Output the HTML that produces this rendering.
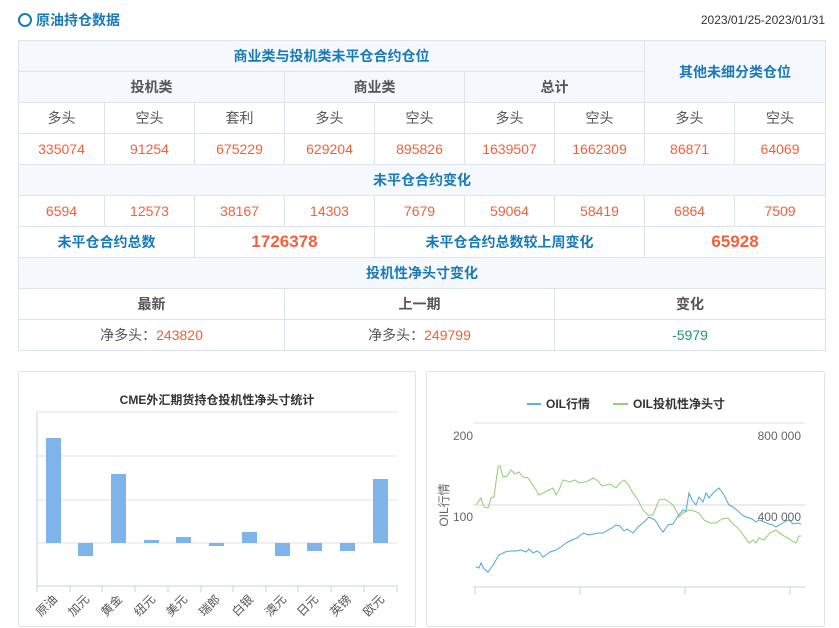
<!DOCTYPE html><html><head><meta charset="utf-8"><style>
body{margin:0;width:839px;height:628px;background:#fff;font-family:"Liberation Sans","Noto Sans CJK SC",sans-serif;position:relative;overflow:hidden}
.t{position:absolute}
table{position:absolute;left:18px;top:40px;border-collapse:collapse;width:808px;table-layout:fixed}
td{border:1px solid #dde3ea;height:30px;text-align:center;font-size:14px;color:#555;padding:0}
.h{background:#f5f8fc}
.b{color:#1a7ab8;font-weight:bold}
.g{color:#555;font-weight:bold}
.o{color:#f4603a}
.ob{color:#f4603a;font-weight:bold;font-size:17px}
.panel{position:absolute;border:1px solid #dde3ea;border-radius:3px}
</style></head><body>
<div class="t" style="left:18px;top:13px;width:10px;height:10px;border:2px solid #1a7ab8;border-radius:50%"></div>
<div class="t" style="left:36px;top:10px;font-size:14px;font-weight:bold;color:#1a7ab8">原油持仓数据</div>
<div class="t" style="right:14px;top:13px;font-size:12px;color:#333">2023/01/25-2023/01/31</div>
<table>
<colgroup><col style="width:86px"><col style="width:90px"><col style="width:90px"><col style="width:90px"><col style="width:90px"><col style="width:90px"><col style="width:90px"><col style="width:90px"><col style="width:91px"></colgroup>
<tr><td colspan="7" class="h b">商业类与投机类未平仓合约仓位</td><td colspan="2" rowspan="2" class="h b">其他未细分类仓位</td></tr>
<tr><td colspan="3" class="h g">投机类</td><td colspan="2" class="h g">商业类</td><td colspan="2" class="h g">总计</td></tr>
<tr><td>多头</td><td>空头</td><td>套利</td><td>多头</td><td>空头</td><td>多头</td><td>空头</td><td>多头</td><td>空头</td></tr>
<tr class="o"><td class="o">335074</td><td class="o">91254</td><td class="o">675229</td><td class="o">629204</td><td class="o">895826</td><td class="o">1639507</td><td class="o">1662309</td><td class="o">86871</td><td class="o">64069</td></tr>
<tr><td colspan="9" class="h b">未平仓合约变化</td></tr>
<tr><td class="o">6594</td><td class="o">12573</td><td class="o">38167</td><td class="o">14303</td><td class="o">7679</td><td class="o">59064</td><td class="o">58419</td><td class="o">6864</td><td class="o">7509</td></tr>
<tr><td colspan="2" class="b">未平仓合约总数</td><td colspan="2" class="ob">1726378</td><td colspan="3" class="b">未平仓合约总数较上周变化</td><td colspan="2" class="ob">65928</td></tr>
<tr><td colspan="9" class="h b">投机性净头寸变化</td></tr>
<tr><td colspan="3" class="g">最新</td><td colspan="3" class="g">上一期</td><td colspan="3" class="g">变化</td></tr>
<tr><td colspan="3">净多头：<span class="o">243820</span></td><td colspan="3">净多头：<span class="o">249799</span></td><td colspan="3" style="color:#1a9a6a">-5979</td></tr>
</table>
<div class="panel" style="left:18px;top:371px;width:396px;height:254px"></div>
<div class="panel" style="left:426px;top:371px;width:397px;height:254px"></div>
<svg class="t" style="left:0;top:0" width="839" height="628" font-family="Liberation Sans,Noto Sans CJK SC,sans-serif">
<text x="217" y="404" text-anchor="middle" font-size="12" font-weight="bold" fill="#333">CME外汇期货持仓投机性净头寸统计</text>
<g stroke="#dde2ea"><line x1="37" y1="412" x2="397" y2="412"/><line x1="37" y1="456" x2="397" y2="456"/><line x1="37" y1="500" x2="397" y2="500"/><line x1="37" y1="543" x2="397" y2="543"/></g>
<line x1="37" y1="412" x2="37" y2="586" stroke="#c5d3e3"/><line x1="37" y1="586" x2="398" y2="586" stroke="#c5d3e3"/>
<g stroke="#c5d3e3"><line x1="37" y1="586" x2="37" y2="592"/><line x1="70" y1="586" x2="70" y2="592"/><line x1="102" y1="586" x2="102" y2="592"/><line x1="135" y1="586" x2="135" y2="592"/><line x1="168" y1="586" x2="168" y2="592"/><line x1="201" y1="586" x2="201" y2="592"/><line x1="233" y1="586" x2="233" y2="592"/><line x1="266" y1="586" x2="266" y2="592"/><line x1="298" y1="586" x2="298" y2="592"/><line x1="331" y1="586" x2="331" y2="592"/><line x1="364" y1="586" x2="364" y2="592"/><line x1="397" y1="586" x2="397" y2="592"/></g>
<g fill="#7eb4ea">
<rect x="46" y="438" width="15" height="105"/><rect x="78" y="543" width="15" height="13"/><rect x="111" y="474" width="15" height="69"/><rect x="144" y="540" width="15" height="3"/><rect x="176" y="537" width="15" height="6"/><rect x="209" y="543" width="15" height="3"/><rect x="242" y="532" width="15" height="11"/><rect x="275" y="543" width="15" height="13"/><rect x="307" y="543" width="15" height="8"/><rect x="340" y="543" width="15" height="8"/><rect x="373" y="479" width="15" height="64"/>
</g>
<g font-size="12" fill="#555" text-anchor="end">
<text transform="translate(58,600) rotate(-45)">原油</text><text transform="translate(90,600) rotate(-45)">加元</text><text transform="translate(123,600) rotate(-45)">黄金</text><text transform="translate(156,600) rotate(-45)">纽元</text><text transform="translate(188,600) rotate(-45)">美元</text><text transform="translate(221,600) rotate(-45)">瑞郎</text><text transform="translate(254,600) rotate(-45)">白银</text><text transform="translate(287,600) rotate(-45)">澳元</text><text transform="translate(319,600) rotate(-45)">日元</text><text transform="translate(352,600) rotate(-45)">英镑</text><text transform="translate(385,600) rotate(-45)">欧元</text>
</g>
<line x1="527" y1="404" x2="541" y2="404" stroke="#5ab0de" stroke-width="2"/><text x="546" y="408" font-size="12" font-weight="bold" fill="#333">OIL行情</text>
<line x1="613" y1="404" x2="628" y2="404" stroke="#8fcf6f" stroke-width="2"/><text x="633" y="408" font-size="12" font-weight="bold" fill="#333">OIL投机性净头寸</text>
<line x1="473" y1="423" x2="805" y2="423" stroke="#dde2ea"/><line x1="473" y1="505" x2="805" y2="505" stroke="#d5d8dc"/>
<line x1="473" y1="587" x2="805" y2="587" stroke="#c5d3e3"/>
<g stroke="#c5d3e3"><line x1="475" y1="587" x2="475" y2="595"/><line x1="580" y1="587" x2="580" y2="595"/><line x1="685" y1="587" x2="685" y2="595"/><line x1="790" y1="587" x2="790" y2="595"/></g>
<g font-size="12" fill="#666"><text x="453" y="440">200</text><text x="453" y="521">100</text><text x="801" y="440" text-anchor="end">800 000</text><text x="801" y="521" text-anchor="end">400 000</text>
<text transform="translate(448,505) rotate(-90)" text-anchor="middle">OIL行情</text></g>
<polyline fill="none" stroke="#8fcf6f" stroke-width="1" points="476,505 481,498 484,507 488,508 491,498 494,497 498,467 500,466 503,477 507,476 511,470 515,474 519,472 523,477 528,478 533,485 539,495 543,493 547,491 553,488 556,495 559,490 563,480 570,482 575,480 579,483 584,482 588,481 593,478 598,481 602,486 606,485 610,484 616,488 620,483 624,480 628,484 633,493 638,500 643,510 648,515 653,515 659,500 664,499 668,501 673,505 677,512 679,517 683,513 689,510 694,511 699,513 704,520 710,523 716,523 722,519 728,518 733,524 738,528 744,536 749,543 753,540 756,543 759,538 764,540 770,533 776,530 782,535 788,538 792,541 796,543 799,536 801,536"/>
<polyline fill="none" stroke="#4aa8d8" stroke-width="1" points="476,567 479,568 481,563 484,569 488,572 493,565 499,555 505,552 510,551 516,551 521,550 526,552 529,549 533,553 537,551 540,553 543,557 550,552 556,550 561,547 566,543 572,540 577,538 583,533 589,535 594,534 598,533 603,533 608,530 612,528 616,525 620,526 624,531 627,529 633,533 638,527 644,522 649,517 655,520 660,528 663,532 668,525 673,524 678,516 683,510 686,511 689,493 692,500 696,505 699,497 703,502 706,493 709,498 714,492 719,488 724,495 729,505 733,507 738,511 742,515 746,517 752,519 756,522 759,520 764,522 769,524 773,525 776,527 781,524 786,521 789,520 793,524 797,523 801,524"/>
</svg>
</body></html>
